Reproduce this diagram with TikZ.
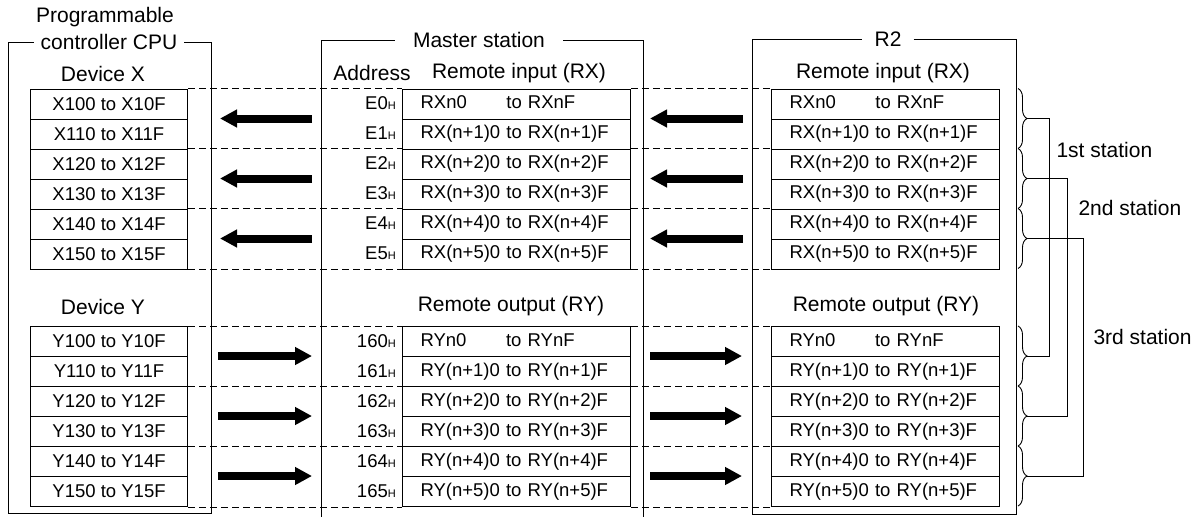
\documentclass[tikz,border=0pt]{standalone}
\usepackage{fontspec}
\setmainfont{Liberation Sans}
\usetikzlibrary{arrows.meta,decorations.pathreplacing,calc}

\newcommand{\tblfont}{\fontsize{18.5}{22}\selectfont}
\newcommand{\hdfont}{\fontsize{21}{25}\selectfont}
\newcommand{\hsub}[1]{#1{\fontsize{11}{11}\selectfont H}}

\tikzset{
  frame/.style={line width=0.9pt},
  frametitle/.style={font=\hdfont, inner ysep=2pt},
  head/.style={font=\hdfont},
  cpurow/.style={draw, line width=1.1pt, minimum width=157pt, minimum height=30pt,
    inner sep=0pt, anchor=north west, font=\tblfont},
  regrow/.style={draw, line width=1.1pt, minimum width=228pt, minimum height=30pt,
    text width=192pt, align=left, inner xsep=18pt, inner ysep=0pt,
    anchor=north west, font=\tblfont},
  addr/.style={anchor=east, inner sep=0pt, font=\tblfont},
  pairline/.style={line width=1pt, dash pattern=on 7pt off 4pt},
  bigarrow/.style={line width=8pt, -{Triangle[length=17pt,width=17pt]}},
  stbrace/.style={decorate, decoration={brace, amplitude=9pt}, line width=0.9pt},
}

\begin{document}
\begin{tikzpicture}[x=1pt,y=-1pt]
\useasboundingbox (0,0) rectangle (1198,517);

% frames and titles
\node[head] (cpuhead) at (105,17) {Programmable};
\node[frametitle, inner xsep=7pt] (cputitle) at (109,42) {controller CPU};
\node[frametitle, inner xsep=18pt] (msttitle) at (479,40) {Master station};
\node[frametitle, inner xsep=12pt] (rtwotitle) at (888,39) {R2};
\draw[frame] (cputitle.east) -| (211,513) -| (8,42) -- (cputitle.west);
\draw[frame] (msttitle.west) -| (321,517);
\draw[frame] (msttitle.east) -| (643,517);
\draw[frame] (rtwotitle.east) -| (1016,514) -| (752,39) -- (rtwotitle.west);
\coordinate (cpuR) at (211,0);
\coordinate (mstL) at (321,0);
\coordinate (mstR) at (643,0);
\coordinate (rtwoL) at (752,0);

% column heads
\node[head] (devx) at (103,74) {Device X};
\node[head] (addrhd) at (372,73) {Address};
\node[head] (mrxhd) at (519,73) {Remote input (RX)};
\node[head] (rrxhd) at (883,73) {Remote input (RX)};
\node[head] (devy) at (103,307) {Device Y};
\node[head] (mryhd) at (511,306) {Remote output (RY)};
\node[head] (rryhd) at (886,306) {Remote output (RY)};

% device and register rows
\foreach \i in {0,...,5} {
  \node[cpurow] (xr\i) at (30,88.5+30*\i) {X1\i0 to X1\i F};
  \node[cpurow] (yr\i) at (30,326+30*\i) {Y1\i0 to Y1\i F};
  \node[addr] (xa\i) at (396,103.5+30*\i) {\hsub{E\i}};
  \node[addr] (ya\i) at (396,341+30*\i) {\hsub{16\i}};
}
\node[regrow] (mrx0) at (402,88.5) {\rlap{RXn0}\phantom{RX(n+1)0} to RXnF};
\node[regrow] (rrx0) at (771,88.5) {\rlap{RXn0}\phantom{RX(n+1)0} to RXnF};
\node[regrow] (mry0) at (402,326) {\rlap{RYn0}\phantom{RY(n+1)0} to RYnF};
\node[regrow] (rry0) at (771,326) {\rlap{RYn0}\phantom{RY(n+1)0} to RYnF};
\foreach \i in {1,...,5} {
  \node[regrow] (mrx\i) at (402,88.5+30*\i) {RX(n+\i)0 to RX(n+\i)F};
  \node[regrow] (rrx\i) at (771,88.5+30*\i) {RX(n+\i)0 to RX(n+\i)F};
  \node[regrow] (mry\i) at (402,326+30*\i) {RY(n+\i)0 to RY(n+\i)F};
  \node[regrow] (rry\i) at (771,326+30*\i) {RY(n+\i)0 to RY(n+\i)F};
}

% dashed pair boundaries
\foreach \i in {0,2,4} {
  \draw[pairline] (xr\i.north east) -- (mrx\i.north west);
  \draw[pairline] (mrx\i.north east) -- (rrx\i.north west);
  \draw[pairline] (yr\i.north east) -- (mry\i.north west);
  \draw[pairline] (mry\i.north east) -- (rry\i.north west);
}
\draw[pairline] (xr5.south east) -- (mrx5.south west);
\draw[pairline] (mrx5.south east) -- (rrx5.south west);
\draw[pairline] (yr5.south east) -- (mry5.south west);
\draw[pairline] (mry5.south east) -- (rry5.south west);

% transfer arrows
\foreach \i in {1,3,5} {
  \draw[bigarrow] ([xshift=-9pt]mstL |- mrx\i.north) -- ([xshift=9pt]cpuR |- xr\i.north);
  \draw[bigarrow] ([xshift=-9pt]rtwoL |- rrx\i.north) -- ([xshift=7pt]mstR |- mrx\i.north);
  \draw[bigarrow] ([xshift=7pt]cpuR |- yr\i.north) -- ([xshift=-9pt]mstL |- mry\i.north);
  \draw[bigarrow] ([xshift=7pt]mstR |- mry\i.north) -- ([xshift=-10pt]rtwoL |- rry\i.north);
}

% station braces
\foreach \k in {0,1,2} {
  \draw[stbrace] (1018,88.5+60*\k) -- (1018,148.5+60*\k);
  \draw[stbrace] (1018,326+60*\k) -- (1018,386+60*\k);
  \coordinate (rxb\k) at (1027,118.5+60*\k);
  \coordinate (ryb\k) at (1027,356+60*\k);
}
\draw[frame] (rxb0) -- ++(22,0) |- (ryb0);
\draw[frame] (rxb1) -- ++(40,0) |- (ryb1);
\draw[frame] (rxb2) -- ++(56,0) |- (ryb2);
\node[head, anchor=west] (st1) at (1053,150) {1st station};
\node[head, anchor=west] (st2) at (1075,208) {2nd station};
\node[head, anchor=west] (st3) at (1090,337) {3rd station};
\end{tikzpicture}
\end{document}
